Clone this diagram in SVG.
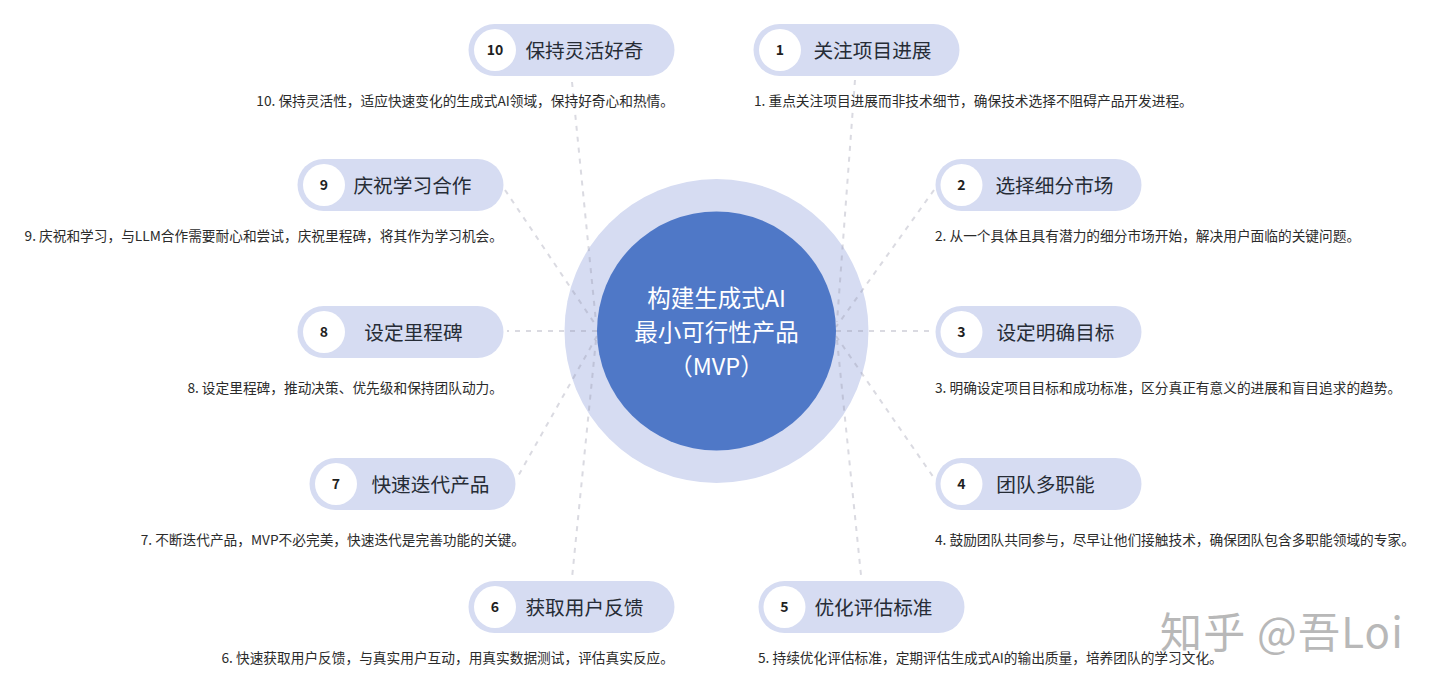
<svg xmlns="http://www.w3.org/2000/svg" width="1440" height="691" viewBox="0 0 1440 691">
<style>
text{font-family:"Noto Sans CJK SC","Noto Sans",sans-serif}
.pill{fill:#d6dcf2}
.dot{fill:#fff}
.num{font-size:14px;font-weight:700;fill:#1f1f1f;text-anchor:middle}
.title{font-size:19.7px;fill:#262c36;text-anchor:middle}
.desc{font-size:13.7px;fill:#2b2b2b}
.r{text-anchor:end}
.c{fill:none;stroke:#9696aa;stroke-opacity:.35;stroke-width:2;stroke-dasharray:5 6}
.center{font-size:23.5px;fill:#fff;text-anchor:middle}
.wm{font-size:42px;fill:#b8b8b8;letter-spacing:1.2px}
</style>
<rect width="1440" height="691" fill="#fff"/>
<g id="outer-ring"><circle cx="716.5" cy="331" r="152" fill="#d6dcf2"/></g>
<g id="connectors">
<path class="c" d="M572 82L596 322"/>
<path class="c" d="M855 80L837 322"/>
<path class="c" d="M505 190L597 327"/>
<path class="c" d="M934 190L836 327"/>
<path class="c" d="M597 331H507"/>
<path class="c" d="M836 331H934"/>
<path class="c" d="M597 336L517 478"/>
<path class="c" d="M836 336L934 478"/>
<path class="c" d="M596 340L572 578"/>
<path class="c" d="M837 340L861 575"/>
</g>
<g id="center"><circle cx="716.5" cy="331" r="119.5" fill="#4f78c7"/>
<text class="center" x="716.5" y="307">构建生成式AI</text>
<text class="center" x="716.5" y="341">最小可行性产品</text>
<text class="center" x="716.5" y="375">（MVP）</text></g>
<g id="node-10"><rect class="pill" x="468.5" y="24" width="206" height="52" rx="26"/><circle class="dot" cx="495" cy="50" r="21"/><text class="num" x="495" y="55">10</text><text class="title" x="584.5" y="58">保持灵活好奇</text><text class="desc r" x="674" y="106">10. 保持灵活性，适应快速变化的生成式AI领域，保持好奇心和热情。</text></g>
<g id="node-1"><rect class="pill" x="753.5" y="24" width="206" height="52" rx="26"/><circle class="dot" cx="780" cy="50" r="21"/><text class="num" x="780" y="55">1</text><text class="title" x="872.5" y="58">关注项目进展</text><text class="desc" x="754" y="106">1. 重点关注项目进展而非技术细节，确保技术选择不阻碍产品开发进程。</text></g>
<g id="node-9"><rect class="pill" x="297.5" y="159" width="206" height="52" rx="26"/><circle class="dot" cx="324" cy="185" r="21"/><text class="num" x="324" y="190">9</text><text class="title" x="412.5" y="193">庆祝学习合作</text><text class="desc r" x="503" y="241">9. 庆祝和学习，与LLM合作需要耐心和尝试，庆祝里程碑，将其作为学习机会。</text></g>
<g id="node-2"><rect class="pill" x="935.5" y="159" width="206" height="52" rx="26"/><circle class="dot" cx="961.5" cy="185" r="21"/><text class="num" x="961.5" y="190">2</text><text class="title" x="1054.5" y="193">选择细分市场</text><text class="desc" x="935" y="241">2. 从一个具体且具有潜力的细分市场开始，解决用户面临的关键问题。</text></g>
<g id="node-8"><rect class="pill" x="297.5" y="306" width="206" height="52" rx="26"/><circle class="dot" cx="324" cy="332" r="21"/><text class="num" x="324" y="337">8</text><text class="title" x="413.5" y="340">设定里程碑</text><text class="desc r" x="503" y="393">8. 设定里程碑，推动决策、优先级和保持团队动力。</text></g>
<g id="node-3"><rect class="pill" x="935.5" y="306" width="206" height="52" rx="26"/><circle class="dot" cx="961.5" cy="332" r="21"/><text class="num" x="961.5" y="337">3</text><text class="title" x="1055.5" y="340">设定明确目标</text><text class="desc" x="935" y="393">3. 明确设定项目目标和成功标准，区分真正有意义的进展和盲目追求的趋势。</text></g>
<g id="node-7"><rect class="pill" x="309.5" y="458" width="206" height="52" rx="26"/><circle class="dot" cx="336" cy="484" r="21"/><text class="num" x="336" y="489">7</text><text class="title" x="430.5" y="492">快速迭代产品</text><text class="desc r" x="525" y="545">7. 不断迭代产品，MVP不必完美，快速迭代是完善功能的关键。</text></g>
<g id="node-4"><rect class="pill" x="935.5" y="458" width="206" height="52" rx="26"/><circle class="dot" cx="961.5" cy="484" r="21"/><text class="num" x="961.5" y="489">4</text><text class="title" x="1045.5" y="492">团队多职能</text><text class="desc" x="935" y="545">4. 鼓励团队共同参与，尽早让他们接触技术，确保团队包含多职能领域的专家。</text></g>
<g id="node-6"><rect class="pill" x="468.5" y="581" width="206" height="52" rx="26"/><circle class="dot" cx="495" cy="607" r="21"/><text class="num" x="495" y="612">6</text><text class="title" x="584.5" y="615">获取用户反馈</text><text class="desc r" x="674" y="663">6. 快速获取用户反馈，与真实用户互动，用真实数据测试，评估真实反应。</text></g>
<g id="node-5"><rect class="pill" x="758.5" y="581" width="206" height="52" rx="26"/><circle class="dot" cx="784.5" cy="607" r="21"/><text class="num" x="784.5" y="612">5</text><text class="title" x="873.5" y="615">优化评估标准</text><text class="desc" x="758" y="663">5. 持续优化评估标准，定期评估生成式AI的输出质量，培养团队的学习文化。</text></g>
<g id="watermark"><text class="wm" x="1160" y="648">知乎 @吾Loi</text></g>
</svg>
